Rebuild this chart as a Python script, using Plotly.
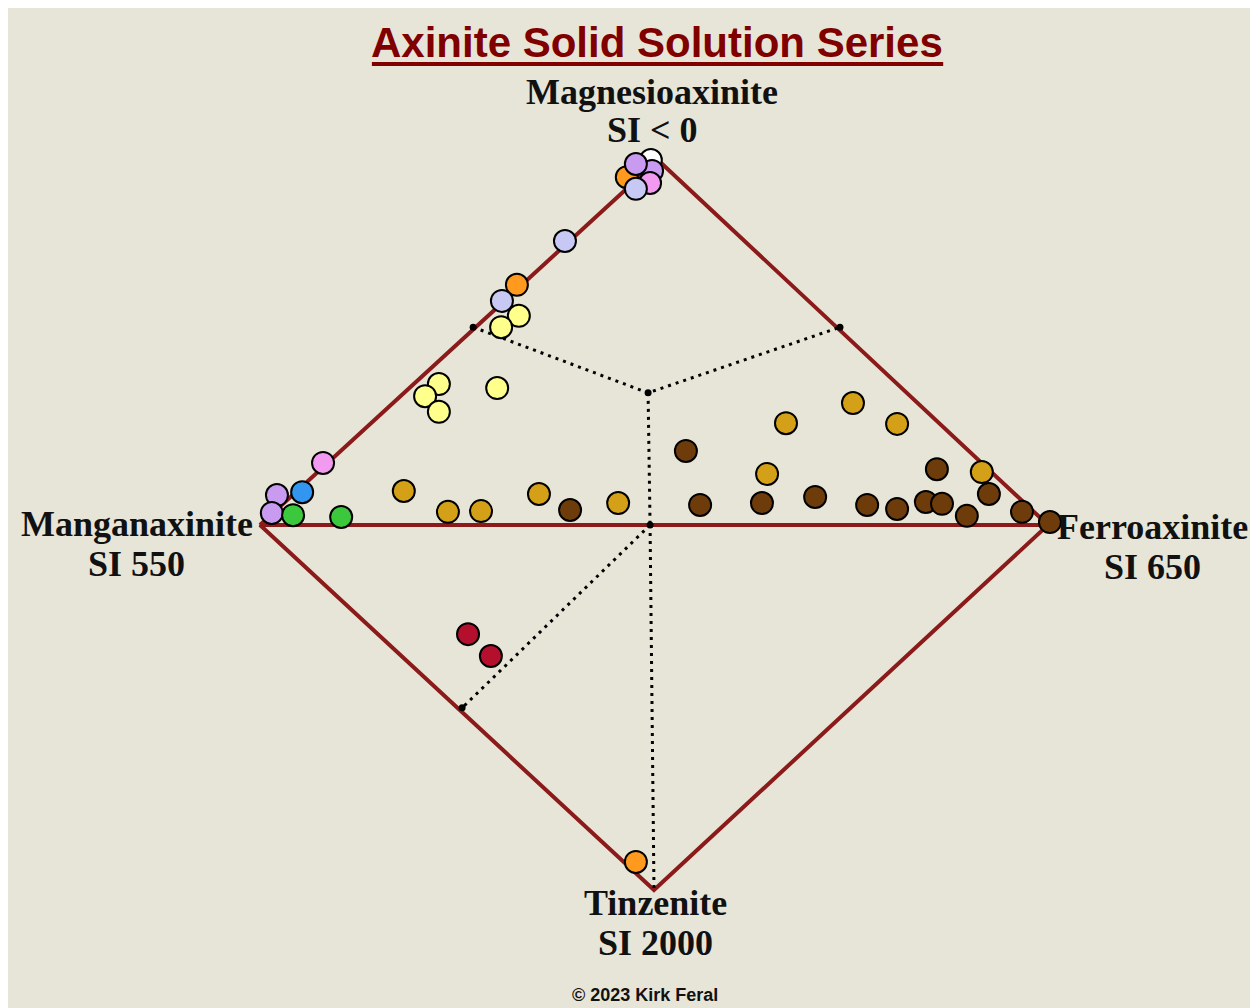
import plotly.graph_objects as go

# ---- end members (diamond vertices): Mn, Mg, Fe, Tz ----
end_names = ["Manganaxinite", "Magnesioaxinite", "Ferroaxinite", "Tinzenite"]
end_si = ["SI 550", "SI < 0", "SI 650", "SI 2000"]
vert_x = [-100, 1, 100, 0]
vert_y = [0, 100, 0, -100]

# ---- dotted divider nodes ----
node_x = [-45.9, -1.5, 47.2, -1.0, -48.7]
node_y = [54.2, 36.2, 54.2, 0.0, -50.1]

# ---- sample points by colour group ----
white_x = [-0.8]
white_y = [100.0]
orange_x = [-6.9, -34.8, -4.6]
orange_y = [95.3, 65.8, -92.3]
purple_x = [-0.5, -4.6, -95.7, -97.0]
purple_y = [97.0, 98.9, 8.2, 3.3]
pink_x = [-1.0, -84.0]
pink_y = [93.7, 17.0]
peri_x = [-4.6, -22.6, -38.6]
peri_y = [92.1, 77.8, 61.4]
yellow_x = [-34.3, -38.8, -54.6, -58.1, -54.6, -39.8]
yellow_y = [57.3, 54.2, 38.6, 35.3, 31.0, 37.5]
blue_x = [-89.3]
blue_y = [9.0]
green_x = [-91.6, -79.4]
green_y = [2.7, 2.2]
gold_x = [-63.5, -52.3, -43.9, -29.2, -9.1, 28.7, 33.5, 50.5, 61.7, 83.2]
gold_y = [9.3, 3.6, 3.8, 8.5, 6.0, 14.0, 27.9, 33.4, 27.7, 14.5]
brown_x = [-21.3, 8.1, 11.7, 27.4, 40.9, 54.1, 61.7, 69.0, 73.1, 71.8, 79.4, 85.0, 93.4, 100.5]
brown_y = [4.1, 20.3, 5.5, 6.0, 7.7, 5.5, 4.4, 6.3, 5.8, 15.3, 2.5, 8.5, 3.6, 0.8]
crimson_x = [-47.2, -41.4]
crimson_y = [-29.9, -35.9]

series = [
    ("white", white_x, white_y, "#FFFFFF"),
    ("orange", orange_x, orange_y, "#FF9A1E"),
    ("purple", purple_x, purple_y, "#C89BF0"),
    ("pink", pink_x, pink_y, "#F29AF0"),
    ("periwinkle", peri_x, peri_y, "#C8C8F5"),
    ("yellow", yellow_x, yellow_y, "#FFFF8C"),
    ("blue", blue_x, blue_y, "#3296F0"),
    ("green", green_x, green_y, "#3CC83C"),
    ("gold", gold_x, gold_y, "#D4A017"),
    ("brown", brown_x, brown_y, "#6E3C0A"),
    ("crimson", crimson_x, crimson_y, "#B4102D"),
]

RED = "#8B1A1A"
BG = "#E7E5D7"

fig = go.Figure()

# diamond outline + horizontal Mn-Fe join
mn, mg, fe, tz = 0, 1, 2, 3
dx = [vert_x[mn], vert_x[mg], vert_x[fe], vert_x[tz], vert_x[mn], vert_x[fe]]
dy = [vert_y[mn], vert_y[mg], vert_y[fe], vert_y[tz], vert_y[mn], vert_y[fe]]
fig.add_trace(go.Scatter(x=dx, y=dy, mode="lines",
                         line=dict(color=RED, width=4), hoverinfo="skip"))

# dotted dividers
lm, cu, rm, cc, ll = 0, 1, 2, 3, 4
px_ = [node_x[lm], node_x[cu], node_x[rm], None,
       node_x[cu], node_x[cc], None,
       node_x[cc], node_x[ll], None,
       node_x[cc], vert_x[tz]]
py_ = [node_y[lm], node_y[cu], node_y[rm], None,
       node_y[cu], node_y[cc], None,
       node_y[cc], node_y[ll], None,
       node_y[cc], vert_y[tz]]
fig.add_trace(go.Scatter(x=px_, y=py_, mode="lines",
                         line=dict(color="black", width=3, dash="3px,5px"),
                         hoverinfo="skip"))
fig.add_trace(go.Scatter(x=node_x, y=node_y, mode="markers",
                         marker=dict(color="black", size=7), hoverinfo="skip"))

for name, xs, ys, col in series:
    fig.add_trace(go.Scatter(x=xs, y=ys, mode="markers", name=name,
                             marker=dict(color=col, size=22,
                                         line=dict(color="black", width=2))))

serif = "Liberation Serif, Times New Roman, serif"
label_pos = {
    "Manganaxinite": (-131.3, 0.3, -10.7),
    "Magnesioaxinite": (-0.5, 118.6, 108.1),
    "Ferroaxinite": (126.4, -0.6, -11.5),
    "Tinzenite": (0.3, -103.6, -114.5),
}
for nm, si in zip(end_names, end_si):
    ax, ay1, ay2 = label_pos[nm]
    fig.add_annotation(x=ax, y=ay1, text="<b>%s</b>" % nm, showarrow=False,
                       xanchor="center", yanchor="middle",
                       font=dict(family=serif, size=36, color="#111111"))
    fig.add_annotation(x=ax, y=ay2, text="<b>%s</b>" % si, showarrow=False,
                       xanchor="center", yanchor="middle",
                       font=dict(family=serif, size=36, color="#111111"))

# title + underline
fig.add_annotation(x=0.8, y=132.3, text="<b>Axinite Solid Solution Series</b>",
                   showarrow=False, xanchor="center", yanchor="middle",
                   font=dict(family="Liberation Sans, Arial, sans-serif", size=42,
                             color="#800000"))
fig.add_shape(type="line", x0=-71.6, x1=73.4, y0=126.3, y1=126.3,
              line=dict(color="#800000", width=4))

fig.add_annotation(x=-2.3, y=-128.8, text="<b>© 2023 Kirk Feral</b>",
                   showarrow=False, xanchor="center", yanchor="middle",
                   font=dict(family="Liberation Sans, Arial, sans-serif", size=18,
                             color="#111111"))

fig.update_xaxes(range=[-163.96, 153.30], visible=False, showgrid=False,
                 zeroline=False, fixedrange=True)
fig.update_yaxes(range=[-132.33, 141.64], visible=False, showgrid=False,
                 zeroline=False, fixedrange=True)
fig.update_layout(width=1250, height=1000,
                  margin=dict(l=0, r=0, t=0, b=0),
                  paper_bgcolor=BG, plot_bgcolor=BG,
                  showlegend=False)

fig.write_html("out.html")
